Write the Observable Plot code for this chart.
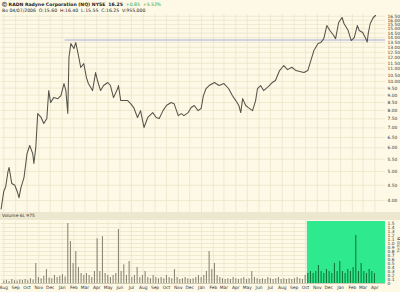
<!DOCTYPE html>
<html><head><meta charset="utf-8">
<script src="https://cdn.jsdelivr.net/npm/d3@7"></script>
<script src="https://cdn.jsdelivr.net/npm/@observablehq/plot@0.6"></script>
<style>
html,body{margin:0;padding:0;background:#fdf9e6;}
body{width:400px;height:292px;overflow:hidden;font-family:"DejaVu Sans",sans-serif;}
#hdr{height:14px;position:relative;color:#222;font-size:4.6px;}
#hdr div{position:absolute;left:2px;white-space:nowrap;}
#vhdr{height:8px;background:#eee7cf;font-size:4.4px;color:#333;line-height:8px;padding-left:2px;box-sizing:border-box;}
svg{display:block;}
</style></head>
<body>
<div id="hdr">
  <div style="top:1.5px"><b>&#9400; RADN Radyne Corporation (NQ) NYSE</b>&nbsp;&nbsp;<b>16.25</b>&nbsp;&nbsp;<span style="color:#1aa64a">+0.85&nbsp;&nbsp;+5.52%</span></div>
  <div style="top:7.5px">Bo 04/07/2006&nbsp;&nbsp;O:15.60&nbsp;&nbsp;H:16.40&nbsp;&nbsp;L:15.55&nbsp;&nbsp;C:16.25&nbsp;&nbsp;V:955,000</div>
</div>
<div id="price"></div>
<div id="vhdr">Volume 6L 975</div>
<div id="vol"></div>
<script>
const priceDates = ["2003-07-25","2003-08-01","2003-08-06","2003-08-12","2003-08-15","2003-08-22","2003-08-30","2003-09-05","2003-09-10","2003-09-15","2003-09-23","2003-10-01","2003-10-08","2003-10-16","2003-10-19","2003-10-24","2003-10-29","2003-11-07","2003-11-14","2003-11-22","2003-11-27","2003-12-02","2003-12-10","2003-12-21","2003-12-29","2004-01-06","2004-01-11","2004-01-16","2004-01-19","2004-01-24","2004-02-01","2004-02-06","2004-02-14","2004-02-19","2004-02-27","2004-03-05","2004-03-10","2004-03-21","2004-03-29","2004-04-03","2004-04-11","2004-04-19","2004-04-30","2004-05-07","2004-05-15","2004-05-26","2004-05-28","2004-06-03","2004-06-11","2004-06-21","2004-06-29","2004-07-07","2004-07-17","2004-07-25","2004-08-03","2004-08-13","2004-08-26","2004-09-04","2004-09-12","2004-09-22","2004-10-01","2004-10-13","2004-10-21","2004-11-01","2004-11-09","2004-11-16","2004-11-27","2004-12-05","2004-12-13","2004-12-23","2004-12-31","2005-01-06","2005-01-13","2005-01-21","2005-02-04","2005-02-16","2005-03-01","2005-03-13","2005-03-23","2005-04-01","2005-04-09","2005-04-14","2005-04-19","2005-04-27","2005-05-04","2005-05-15","2005-05-23","2005-05-28","2005-06-05","2005-06-13","2005-06-26","2005-07-06","2005-07-14","2005-07-25","2005-08-05","2005-08-15","2005-08-26","2005-09-06","2005-09-16","2005-09-27","2005-10-07","2005-10-15","2005-10-23","2005-11-03","2005-11-10","2005-11-18","2005-11-26","2005-12-04","2005-12-14","2005-12-19","2005-12-27","2006-01-05","2006-01-10","2006-01-21","2006-01-29","2006-02-06","2006-02-14","2006-02-19","2006-02-28","2006-03-07","2006-03-12","2006-03-15","2006-03-20","2006-03-28","2006-04-03"];
const priceValues = [3.75,4.30,4.45,5.00,5.16,4.56,4.50,4.30,4.09,4.42,4.77,5.74,6.11,5.74,5.32,6.02,7.81,7.58,7.24,7.52,9.32,8.50,8.83,8.76,8.97,9.84,9.32,7.81,12.02,13.38,12.88,13.48,12.02,11.13,11.47,10.30,9.84,9.32,10.71,10.07,9.32,9.69,9.92,9.69,8.83,9.47,9.69,8.63,8.63,8.63,8.43,8.18,7.58,7.99,7.02,7.58,7.87,7.58,7.52,7.99,8.31,8.50,8.43,7.69,7.81,7.69,7.87,8.18,8.31,7.99,8.12,8.97,9.47,9.69,9.92,9.69,9.84,9.47,8.97,8.63,8.31,7.87,8.76,8.31,8.18,7.99,8.63,9.47,9.69,9.32,9.62,9.92,10.07,10.87,11.30,10.95,11.15,10.87,10.80,10.71,10.87,11.74,12.68,13.38,13.48,13.90,15.37,14.79,14.23,13.90,15.73,16.35,15.61,14.79,13.69,14.01,15.37,14.79,14.56,14.01,13.55,14.56,15.61,16.35,16.60];

const volStart = "2003-08-01"; // first weekly bar, one bar per week
const volumeMillions = [0.06,0.08,0.05,0.1,0.07,0.06,0.09,0.08,0.1,0.07,0.12,0.09,0.5,0.15,0.12,0.18,0.35,0.14,0.12,0.2,0.15,0.18,0.22,0.16,1.5,1.05,0.5,0.8,0.4,0.25,0.2,0.25,0.2,0.15,0.3,1.12,0.3,1.17,0.25,0.2,0.15,0.2,0.25,1.35,0.3,0.47,0.2,0.55,0.15,0.2,0.4,0.15,0.2,0.3,0.15,0.12,0.2,0.15,0.12,0.15,0.12,0.2,0.15,0.12,0.35,0.15,0.1,0.12,0.15,0.12,0.1,0.12,0.15,0.2,0.15,0.2,0.3,0.8,0.35,0.5,0.2,0.15,0.12,0.1,0.12,0.1,0.15,0.12,0.1,0.12,0.15,0.1,0.12,0.3,0.15,0.12,0.1,0.12,0.1,0.15,0.12,0.1,0.12,0.15,0.1,0.12,0.1,0.12,0.1,0.12,0.15,0.12,0.1,0.2,0.25,0.3,0.25,0.3,0.45,0.3,0.25,0.35,0.3,0.25,0.5,0.3,0.55,0.3,0.25,0.35,0.3,0.4,1.2,0.3,0.5,0.3,0.25,0.35,0.3,0.25];

const resistanceLevel = 13.75;
const resistanceStart = "2004-01-09";
const highlightStart = "2005-10-06";
const priceTicks = [4,4.5,5,5.5,6,6.5,7,7.5,8,8.5,9,9.5,10,10.5,11,11.5,12,12.5,13,13.5,14,14.5,15,15.5,16,16.5];
const volTicks = [0,0.1,0.2,0.3,0.4,0.5,0.6,0.7,0.8,0.9,1.0,1.1,1.2,1.3,1.4,1.5];

const xDomain = [new Date("2003-07-26"), new Date("2006-04-29")];
const months = d3.timeMonth.range(new Date("2003-08-01"), xDomain[1]);
const price = priceDates.map((d,i)=>({date:new Date(d), v:priceValues[i]}));
const vol = volumeMillions.map((v,i)=>({date:d3.timeWeek.offset(new Date(volStart), i), v}));
const hlDate = new Date(highlightStart);

const gridColor = "#ebe4c9";
const priceChart = Plot.plot({
  width:400, height:198, marginLeft:1, marginRight:15, marginTop:0, marginBottom:0,
  style:{background:"#fdf9e6", fontSize:"4.4px", fontFamily:"DejaVu Sans, sans-serif", color:"#333"},
  x:{type:"time", domain:xDomain, axis:null},
  y:{type:"log", domain:[3.65,16.73], ticks:priceTicks, tickFormat:d3.format(".2f"), axis:"right", tickSize:0, tickPadding:2, label:null},
  marks:[
    Plot.ruleX(months, {stroke:gridColor, strokeWidth:0.8}),
    Plot.ruleY(priceTicks, {stroke:gridColor, strokeWidth:0.8}),
    Plot.ruleY([resistanceLevel], {x1:new Date(resistanceStart), x2:xDomain[1], stroke:"#a9a9df", strokeWidth:1.2}),
    Plot.line(price, {x:"date", y:"v", stroke:"#55544a", strokeWidth:1.05})
  ]
});
document.getElementById("price").append(priceChart);

const volChart = Plot.plot({
  width:400, height:72, marginLeft:1, marginRight:15, marginTop:1, marginBottom:9,
  style:{background:"#fdf9e6", fontSize:"4.4px", fontFamily:"DejaVu Sans, sans-serif", color:"#333"},
  x:{type:"time", domain:xDomain, ticks:months, tickFormat:d3.utcFormat("%b"), tickSize:0, tickPadding:2, label:null},
  y:{domain:[0,1.55], ticks:volTicks, tickFormat:d=>d===0?"0":d.toFixed(1), axis:"right", tickSize:0, tickPadding:2, label:null},
  marks:[
    Plot.ruleX(months, {stroke:gridColor, strokeWidth:0.8}),
    Plot.ruleY(volTicks, {stroke:gridColor, strokeWidth:0.8}),
    Plot.rect([{x1:hlDate, x2:xDomain[1]}], {x1:"x1", x2:"x2", y1:0, y2:1.55, fill:"#2fe98e"}),
    Plot.ruleX(vol, {x:"date", y1:0, y2:"v", stroke:d=>d.date>=hlDate?"#127a3c":"#8b8875", strokeWidth:1.1}),
    Plot.ruleY([0], {stroke:"#bdb79f", strokeWidth:0.6}),
    Plot.text(["Millions"], {frameAnchor:"right", dx:13, rotate:90, fontSize:4.2, fill:"#444"})
  ]
});
document.getElementById("vol").append(volChart);
</script>
</body></html>
